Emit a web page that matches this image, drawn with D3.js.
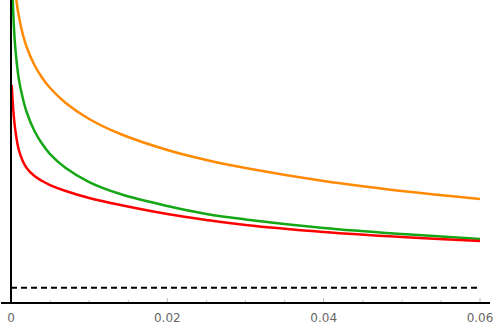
<!DOCTYPE html>
<html lang="en">
<head>
    <meta charset="utf-8">
    <title>Curves</title>
    <style type="text/css">
        body{
            margin: 0;
            background: #fff;
        }
        .tick_label{
            font-family: "DejaVu Sans", sans-serif;
            font-size: 12px;
            fill: #666;
        }
    </style>
</head>
<body>
   <svg class="svg_plot" width="495" height="327"></svg>

   <script src="https://d3js.org/d3.v7.min.js"></script>
   <script>
        // data
        var xs = [0.0001, 0.0002, 0.0003, 0.0005, 0.0007, 0.001, 0.0015, 0.002, 0.003, 0.004,
                  0.005, 0.007, 0.01, 0.014, 0.02, 0.025, 0.03, 0.04, 0.05, 0.06];
        var orange = [3.851, 3.545, 3.366, 3.139, 2.990, 2.842, 2.663, 2.535, 2.356, 2.228,
                      2.129, 1.980, 1.822, 1.673, 1.515, 1.416, 1.337, 1.208, 1.109, 1.030];
        var green  = [3.465, 3.069, 2.851, 2.574, 2.406, 2.218, 2.030, 1.891, 1.703, 1.574,
                      1.475, 1.337, 1.198, 1.079, 0.960, 0.881, 0.827, 0.743, 0.683, 0.634];
        var red    = [2.158, 2.010, 1.901, 1.743, 1.634, 1.515, 1.406, 1.337, 1.257, 1.208,
                      1.168, 1.109, 1.040, 0.970, 0.881, 0.822, 0.772, 0.703, 0.653, 0.614];
        var baseline = 0.15;
        var tickLabels = ['0', '0.02', '0.04', '0.06'];
        var tickValues = [0, 0.02, 0.04, 0.06];

        var svg = d3.select('.svg_plot');

        // scales
        var x = d3.scaleLinear().domain([0, 0.06]).range([11, 480]);
        var y = d3.scaleLinear().domain([0, 3]).range([303, 0]);

        // clip to plot area
        svg.append('clipPath')
            .attr('id', 'clip')
            .append('rect')
            .attr('x', 11)
            .attr('y', 0)
            .attr('width', 479)
            .attr('height', 303);

        var plot = svg.append('g').attr('clip-path', 'url(#clip)');

        var line = d3.line()
            .x(function(d) { return x(d[0]); })
            .y(function(d) { return y(d[1]); })
            .curve(d3.curveCatmullRom.alpha(0.5));

        var series = [
            {values: orange, color: '#ff8a00'},
            {values: green, color: '#14a614'},
            {values: red, color: '#ff0000'}
        ];

        // dashed level line
        plot.append('line')
            .attr('x1', x(0))
            .attr('x2', x(0.06))
            .attr('y1', y(baseline))
            .attr('y2', y(baseline))
            .attr('stroke', '#000')
            .attr('stroke-width', 2)
            .attr('stroke-dasharray', '6,4');

        series.forEach(function(s) {
            plot.append('path')
                .datum(xs.map(function(v, i) { return [v, s.values[i]]; }))
                .attr('fill', 'none')
                .attr('stroke', s.color)
                .attr('stroke-width', 2.5)
                .attr('d', line);
        });

        // minor / major ticks
        var ticks = d3.range(0, 0.0601, 0.005);
        svg.selectAll('line.tk')
            .data(ticks)
            .enter()
            .append('line')
            .attr('class', 'tk')
            .attr('x1', function(d) { return x(d); })
            .attr('x2', function(d) { return x(d); })
            .attr('y1', 303)
            .attr('y2', function(d, i) { return i % 4 === 0 ? 298 : 300; })
            .attr('stroke', '#bbb')
            .attr('stroke-width', 1);

        // axes lines
        svg.append('line')
            .attr('x1', 1).attr('x2', 490)
            .attr('y1', 303).attr('y2', 303)
            .attr('stroke', '#000').attr('stroke-width', 2);
        svg.append('line')
            .attr('x1', 11).attr('x2', 11)
            .attr('y1', 0).attr('y2', 304)
            .attr('stroke', '#000').attr('stroke-width', 2);

        // tick labels
        svg.selectAll('text.tick_label')
            .data(tickValues)
            .enter()
            .append('text')
            .attr('class', 'tick_label')
            .attr('x', function(d) { return x(d); })
            .attr('y', 322)
            .attr('text-anchor', 'middle')
            .text(function(d, i) { return tickLabels[i]; });
   </script>
</body>
</html>
